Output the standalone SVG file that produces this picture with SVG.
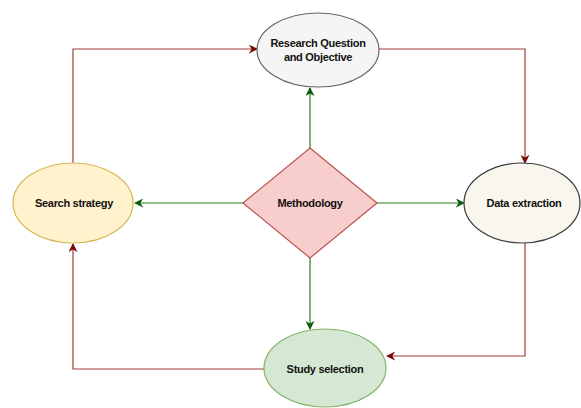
<svg xmlns="http://www.w3.org/2000/svg" width="581" height="408" viewBox="0 0 581 408">
<style>
.t{font-family:"Liberation Sans","Arial",sans-serif;font-size:11px;font-weight:bold;fill:#111;text-anchor:middle;letter-spacing:-0.3px}
.r{fill:none;stroke:#a33a3a;stroke-width:1.2}
.g{fill:none;stroke:#2d7a1f;stroke-width:1.2}
</style>
<defs>
<marker id="ar" viewBox="0 0 10 10" refX="9" refY="5" markerWidth="9" markerHeight="9" markerUnits="userSpaceOnUse" orient="auto">
<path d="M0,0 L10,5 L0,10 L3,5 Z" fill="#7a0a0a"/>
</marker>
<marker id="ag" viewBox="0 0 10 10" refX="9" refY="5" markerWidth="9" markerHeight="9" markerUnits="userSpaceOnUse" orient="auto">
<path d="M0,0 L10,5 L0,10 L3,5 Z" fill="#0b5e0b"/>
</marker>
</defs>
<rect width="581" height="408" fill="#ffffff"/>
<g id="connectors">
<path class="r" d="M73,163 V49 H257" marker-end="url(#ar)"/>
<path class="r" d="M379,49 H525 V163" marker-end="url(#ar)"/>
<path class="r" d="M525,243 V356 H387" marker-end="url(#ar)"/>
<path class="r" d="M264,369 H73 V244" marker-end="url(#ar)"/>
<path class="g" d="M310,148 V88" marker-end="url(#ag)"/>
<path class="g" d="M243,203 H135" marker-end="url(#ag)"/>
<path class="g" d="M377,203 H464" marker-end="url(#ag)"/>
<path class="g" d="M310,258 V329" marker-end="url(#ag)"/>
</g>
<g id="research">
<ellipse cx="318" cy="50" rx="61" ry="37" fill="#f5f5f5" stroke="#666666" stroke-width="1.2"/>
<text class="t" x="318" y="47">Research Question</text>
<text class="t" x="318" y="61">and Objective</text>
</g>
<g id="search">
<ellipse cx="73" cy="203" rx="60" ry="40" fill="#fff2cc" stroke="#d6b656" stroke-width="1.2"/>
<text class="t" x="74" y="207">Search strategy</text>
</g>
<g id="methodology">
<path d="M310,148 L377,203 L310,258 L243,203 Z" fill="#f8cecc" stroke="#b85450" stroke-width="1.2"/>
<text class="t" x="310" y="207">Methodology</text>
</g>
<g id="data">
<ellipse cx="522" cy="203" rx="58" ry="40" fill="#f9f7ed" stroke="#36393d" stroke-width="1.2"/>
<text class="t" x="524" y="207">Data extraction</text>
</g>
<g id="study">
<ellipse cx="325" cy="368" rx="61" ry="39" fill="#d5e8d4" stroke="#82b366" stroke-width="1.2"/>
<text class="t" x="325" y="373">Study selection</text>
</g>
</svg>
